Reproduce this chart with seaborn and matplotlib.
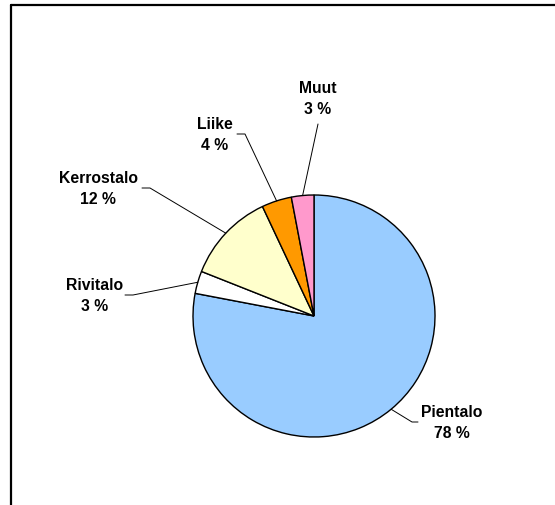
import numpy as np
import matplotlib
matplotlib.use("Agg")
import matplotlib.pyplot as plt
from matplotlib.lines import Line2D
import seaborn as sns

# ---- data ----
categories = ["Pientalo", "Rivitalo", "Kerrostalo", "Liike", "Muut"]
shares = [78, 3, 12, 4, 3]
slice_colors = ["#99CCFF", "#FFFFFF", "#FFFFCC", "#FF9900", "#FF99CC"]

sns.set_theme(style="white")
plt.rcParams['font.family'] = ['Liberation Sans', 'DejaVu Sans']

W, H = 555, 506
fig = plt.figure(figsize=(W / 100, H / 100), dpi=100)
fig.patch.set_facecolor("white")
ax = fig.add_axes([0, 0, 1, 1])
ax.set_xlim(0, W)
ax.set_ylim(0, H)
ax.set_aspect("equal")
ax.axis("off")

cx, cy, R = 314, H - 317, 121
palette = sns.color_palette(slice_colors)
wedges, _ = ax.pie(shares, colors=palette, startangle=90, counterclock=False,
                   center=(cx, cy), radius=R, frame=True,
                   wedgeprops=dict(edgecolor="black", linewidth=1.0))
ax.set_xlim(0, W)
ax.set_ylim(0, H)
ax.axis("off")

# label layout (pixel coords from top): text centre, elbow, line end
layout = {
    "Pientalo": dict(text=(452, 423), pts=[(412, 423), (418, 423)]),
    "Rivitalo": dict(text=(95, 296), pts=[(133, 296), (125, 296)]),
    "Kerrostalo": dict(text=(98, 189), pts=[(150, 189), (142, 189)]),
    "Liike": dict(text=(215, 135), pts=[(245, 135), (237, 135)]),
    "Muut": dict(text=(318, 99), pts=[(318, 125)]),
}

for w, name, val in zip(wedges, categories, shares):
    mid = np.deg2rad((w.theta1 + w.theta2) / 2)
    ax_x = cx + R * np.cos(mid)
    ax_y = cy + R * np.sin(mid)
    lay = layout[name]
    xs = [ax_x] + [p[0] for p in lay["pts"]]
    ys = [ax_y] + [H - p[1] for p in lay["pts"]]
    ax.plot(xs, ys, color="black", lw=0.7)
    tx, ty = lay["text"]
    ax.text(tx, H - ty, f"{name}\n{val} %", ha="center", va="center",
            fontsize=11.3, fontweight="bold", linespacing=1.55, color="black")

# frame lines (top and left)
fig.add_artist(Line2D([10.5 / W, 1], [1 - 6 / H, 1 - 6 / H], transform=fig.transFigure,
                      color="black", lw=1.6))
fig.add_artist(Line2D([10.5 / W, 10.5 / W], [0, 1 - 6 / H], transform=fig.transFigure,
                      color="black", lw=1.6))

fig.savefig("out.png", dpi=100, facecolor="white")
